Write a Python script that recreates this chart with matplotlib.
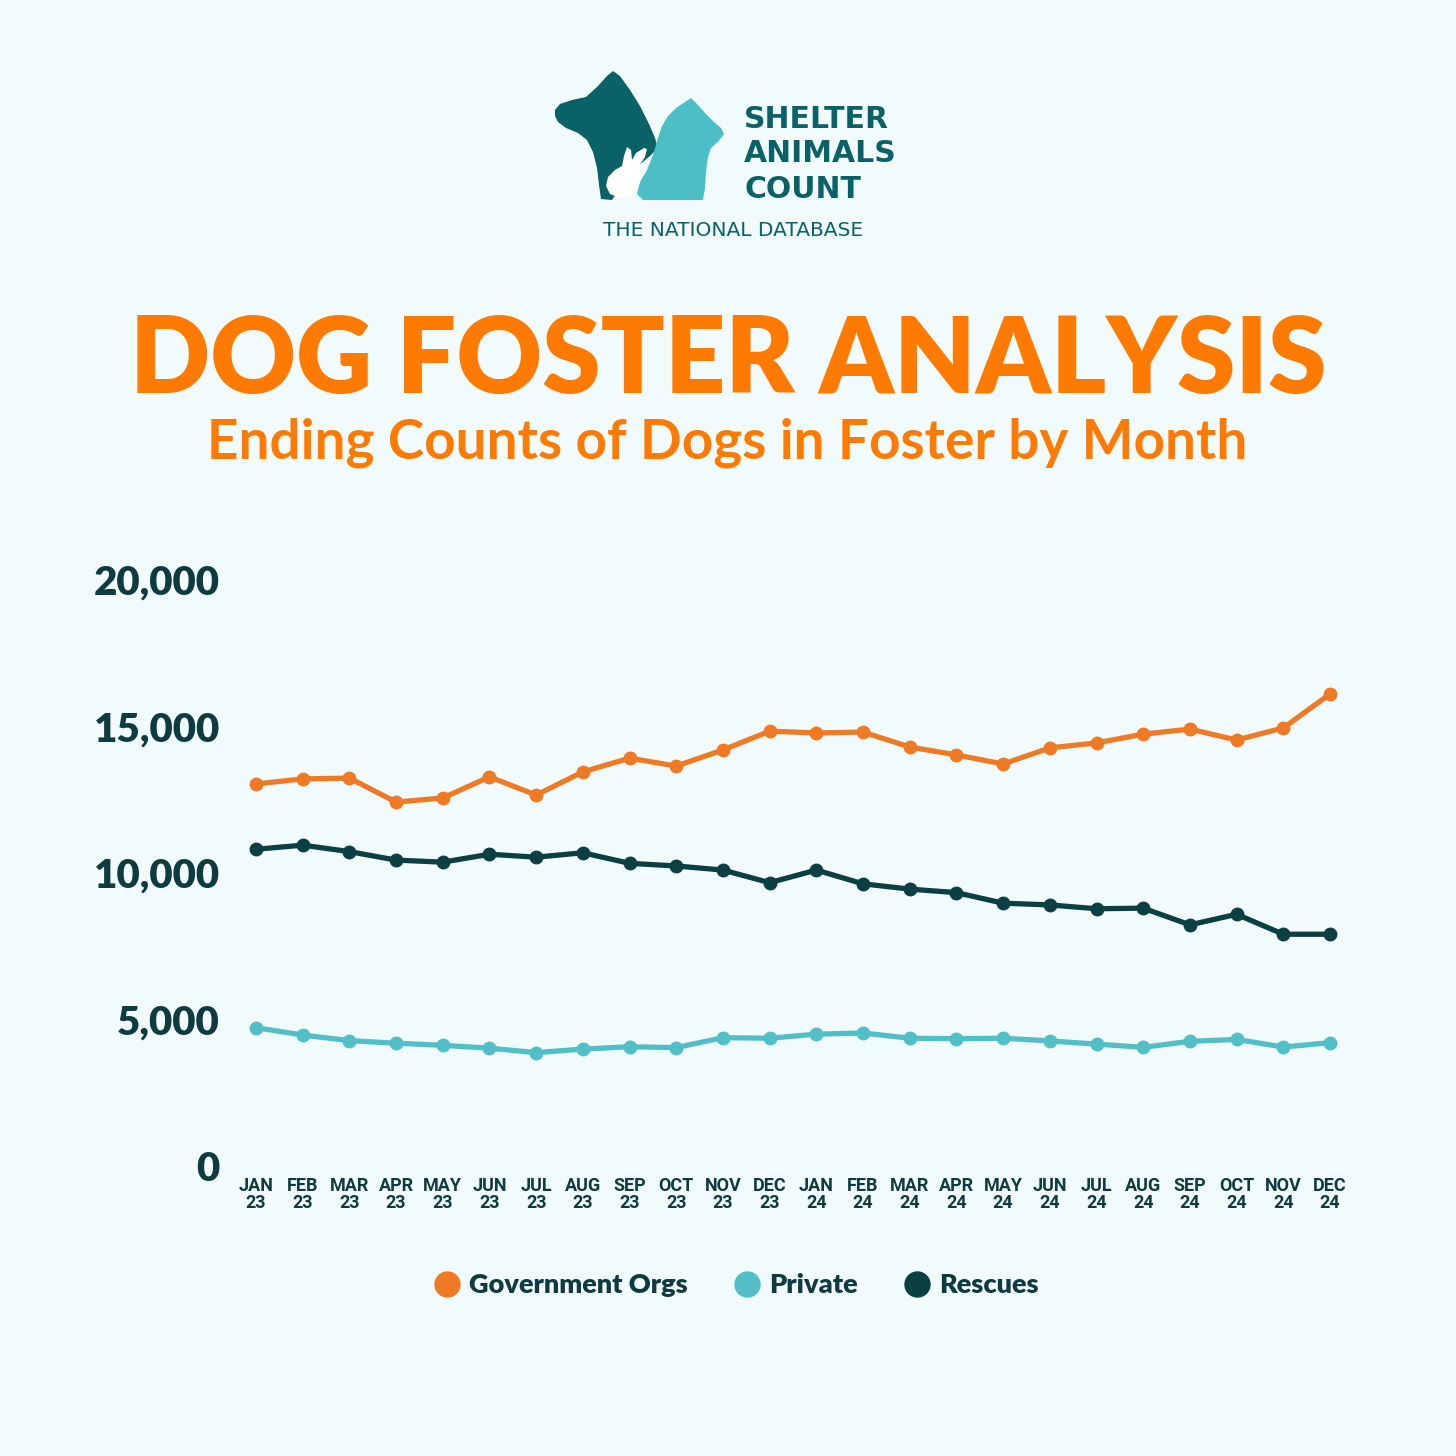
import matplotlib
matplotlib.use("Agg")
import matplotlib.pyplot as plt
from matplotlib.lines import Line2D
from matplotlib.patches import Polygon

# --- Data ---
months = ["JAN\n23", "FEB\n23", "MAR\n23", "APR\n23", "MAY\n23", "JUN\n23",
          "JUL\n23", "AUG\n23", "SEP\n23", "OCT\n23", "NOV\n23", "DEC\n23",
          "JAN\n24", "FEB\n24", "MAR\n24", "APR\n24", "MAY\n24", "JUN\n24",
          "JUL\n24", "AUG\n24", "SEP\n24", "OCT\n24", "NOV\n24", "DEC\n24"]
government = [13040, 13210, 13240, 12420, 12560, 13280, 12660, 13450, 13920, 13650, 14200, 14840,
              14780, 14810, 14300, 14030, 13720, 14270, 14440, 14740, 14910, 14540, 14950, 16110]
private = [4720, 4470, 4280, 4190, 4120, 4020, 3870, 3990, 4070, 4040, 4380, 4360,
           4500, 4540, 4360, 4345, 4360, 4270, 4160, 4050, 4255, 4320, 4060, 4210]
rescues = [10810, 10950, 10730, 10440, 10370, 10640, 10540, 10690, 10330, 10240, 10100, 9670,
           10100, 9630, 9450, 9330, 8970, 8910, 8780, 8800, 8230, 8590, 7910, 7910]
series_names = ["Government Orgs", "Private", "Rescues"]
y_ticks = [0, 5000, 10000, 15000, 20000]

# --- Style ---
BG = "#F2FBFC"
ORANGE = "#EF7A26"
TEAL = "#52BFC6"
DARK = "#0C3F44"
TITLE_ORANGE = "#FF7A00"
LOGO_DARK = "#0A6166"
LABEL = "#0F3A3F"

W = H = 1456
fig = plt.figure(figsize=(W / 100, H / 100), dpi=100, facecolor=BG)

def px(x, y):
    """pixel (from top-left) -> figure fraction"""
    return x / W, 1 - y / H

# --- Logo (rough silhouettes) ---
deco = fig.add_axes([0, 0, 1, 1], facecolor="none")
deco.set_xlim(0, W)
deco.set_ylim(H, 0)
deco.axis("off")

dog = [(555, 110), (560, 104), (572, 100), (586, 97), (598, 86), (607, 76), (613, 71),
       (620, 76), (630, 90), (640, 106), (649, 124), (655, 138), (658, 148),
       (650, 156), (638, 166), (628, 176), (620, 188), (612, 200),
       (601, 199), (599, 185), (597, 168), (593, 152), (587, 140), (578, 133),
       (566, 128), (558, 122), (555, 116)]
cat = [(668, 116), (676, 108), (685, 102), (691, 98), (697, 104), (706, 114), (714, 122),
       (721, 128), (724, 134), (718, 142), (711, 148), (708, 157), (706, 172),
       (705, 188), (703, 200), (643, 200), (637, 194), (640, 182), (647, 170),
       (653, 155), (658, 138), (662, 126)]
rabbit = [(610, 194), (606, 186), (608, 177), (615, 170), (622, 166), (624, 156),
          (627, 147), (631, 150), (632, 160), (636, 153), (644, 148), (647, 149),
          (645, 157), (639, 166), (641, 178), (638, 188), (632, 196), (620, 198)]
deco.add_patch(Polygon(dog, closed=True, color=LOGO_DARK, lw=0))
deco.add_patch(Polygon(cat, closed=True, color="#4CBFC6", lw=0))
deco.add_patch(Polygon(rabbit, closed=True, color="white", lw=0))

for txt, yy in [("SHELTER", 119), ("ANIMALS", 154), ("COUNT", 189)]:
    deco.text(744, yy, txt, color=LOGO_DARK, fontsize=21.5, fontweight="bold",
              family="DejaVu Sans", ha="left", va="center")
deco.text(733, 230, "THE NATIONAL DATABASE", color=LOGO_DARK, fontsize=14.5,
          family="DejaVu Sans", ha="center", va="center")

# --- Titles ---
deco.text(728, 362, "DOG FOSTER ANALYSIS", color=TITLE_ORANGE, fontsize=76,
          fontweight="heavy", family="Lato", ha="center", va="center")
deco.text(727, 443, "Ending Counts of Dogs in Foster by Month", color=TITLE_ORANGE,
          fontsize=39.5, fontweight="bold", family="Lato", ha="center", va="center")

# --- Chart ---
x0, x1, y0, y1 = 256, 1330, 580, 1166
ax = fig.add_axes([x0 / W, 1 - y1 / H, (x1 - x0) / W, (y1 - y0) / H], facecolor="none")
xs = list(range(len(months)))
for vals, col in [(government, ORANGE), (rescues, DARK), (private, TEAL)]:
    ax.plot(xs, vals, color=col, lw=3.8, marker="o", markersize=9,
            solid_joinstyle="round", clip_on=False)

ax.set_xlim(0, len(months) - 1)
ax.set_ylim(0, 20000)
for s in ax.spines.values():
    s.set_visible(False)
ax.set_yticks(y_ticks)
ax.set_yticklabels([f"{v:,}" for v in y_ticks], fontsize=29, fontweight="heavy",
                   color=LABEL, family="Lato")
ax.set_xticks(xs)
ax.set_xticklabels(months, fontsize=13, fontweight="bold", color=LABEL,
                   family=["Liberation Sans Narrow", "Roboto"], linespacing=0.95)
ax.tick_params(axis="y", length=0, pad=26)
ax.tick_params(axis="x", length=0, pad=8)

handles = [Line2D([], [], ls="none", marker="o", markersize=18, color=c)
           for c in (ORANGE, TEAL, DARK)]
leg = fig.legend(handles, series_names, loc="center", bbox_to_anchor=px(736, 1285),
                 ncol=3, frameon=False, handlelength=1.0, handletextpad=0.3,
                 columnspacing=1.7,
                 prop={"family": "Lato", "weight": "heavy", "size": 19.5})
for t in leg.get_texts():
    t.set_color(LABEL)

fig.savefig("out.png", dpi=100, facecolor=BG)
